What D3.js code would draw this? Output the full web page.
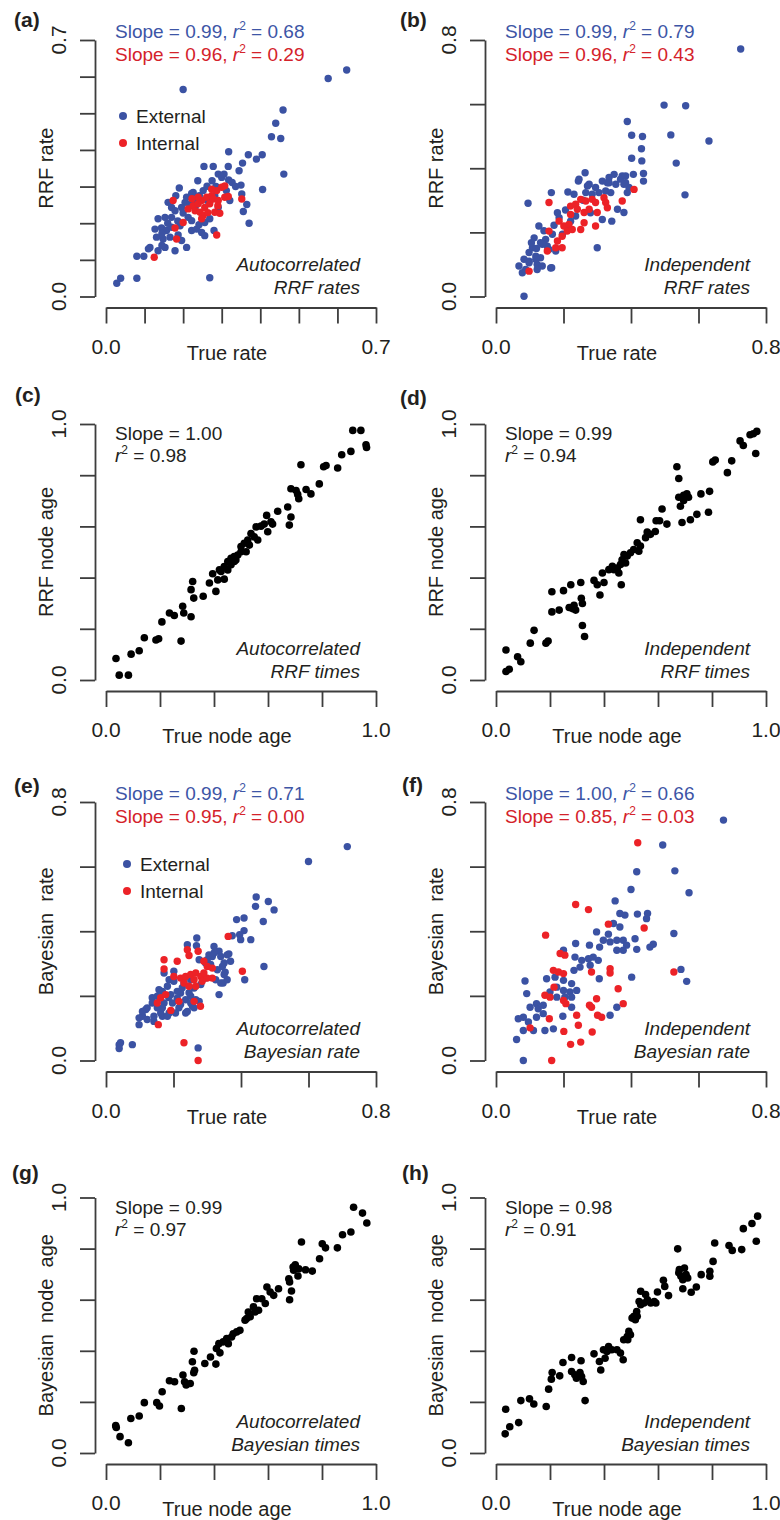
<!DOCTYPE html>
<html>
<head>
<meta charset="utf-8">
<script src="https://cdn.jsdelivr.net/npm/d3@7"></script>
<style>
  body { margin: 0; background: #fff; }
  svg text { font-family: "Liberation Sans", Arial, Helvetica, sans-serif; fill: #231f20; white-space: pre; }
</style>
</head>
<body>
<svg id="chart" width="780" height="1520"></svg>
<script>
// ---- tick values / labels ----
const ticks07 = [0, 0.1, 0.2, 0.3, 0.4, 0.5, 0.6, 0.7];
const ticks08 = [0, 0.2, 0.4, 0.6, 0.8];
const ticks10 = [0, 0.2, 0.4, 0.6, 0.8, 1.0];
const ends07 = ['0.0', '0.7'];
const ends08 = ['0.0', '0.8'];
const ends10 = ['0.0', '1.0'];

// ---- (a) autocorrelated RRF rates ----
const aExternal = [[0.624,0.618],[0.576,0.595],[0.200,0.565],[0.459,0.509],[0.440,0.473],[0.429,0.436],[0.453,0.431],[0.461,0.334],[0.318,0.395],[0.369,0.387],[0.405,0.387],[0.390,0.375],[0.354,0.364],[0.254,0.355],[0.278,0.355],[0.317,0.355],[0.406,0.292],[0.190,0.296],[0.356,0.232],[0.371,0.200],[0.269,0.051],[0.080,0.050],[0.028,0.036],[0.038,0.050],[0.080,0.110],[0.098,0.110],[0.110,0.130],[0.345,0.343],[0.291,0.334],[0.300,0.325],[0.306,0.334],[0.327,0.311],[0.336,0.300],[0.350,0.304],[0.226,0.284],[0.252,0.289],[0.352,0.280],[0.161,0.257],[0.170,0.243],[0.135,0.212],[0.153,0.216],[0.127,0.184],[0.144,0.187],[0.157,0.180],[0.170,0.189],[0.131,0.162],[0.148,0.157],[0.166,0.162],[0.114,0.134],[0.135,0.125],[0.153,0.134],[0.196,0.153],[0.209,0.134],[0.222,0.180],[0.235,0.184],[0.248,0.175],[0.256,0.166],[0.213,0.216],[0.222,0.207],[0.256,0.202],[0.269,0.212],[0.170,0.216],[0.179,0.234],[0.231,0.243],[0.205,0.257],[0.209,0.271],[0.312,0.289],[0.291,0.243],[0.192,0.193],[0.181,0.275],[0.238,0.316],[0.275,0.316],[0.321,0.262],[0.282,0.275],[0.145,0.139],[0.179,0.125],[0.280,0.180],[0.365,0.251],[0.222,0.281],[0.242,0.275],[0.186,0.206],[0.200,0.228],[0.217,0.252],[0.262,0.301],[0.160,0.200],[0.241,0.196],[0.263,0.262],[0.196,0.243],[0.232,0.262],[0.285,0.300],[0.318,0.318],[0.145,0.172],[0.187,0.168]];
const aInternal = [[0.352,0.266],[0.174,0.262],[0.200,0.202],[0.179,0.187],[0.183,0.157],[0.287,0.168],[0.125,0.107],[0.282,0.230],[0.295,0.227],[0.213,0.239],[0.226,0.248],[0.239,0.253],[0.248,0.262],[0.261,0.271],[0.274,0.275],[0.287,0.289],[0.300,0.298],[0.308,0.302],[0.231,0.234],[0.244,0.230],[0.252,0.221],[0.248,0.212],[0.269,0.253],[0.278,0.266],[0.291,0.262],[0.308,0.271],[0.256,0.243],[0.239,0.271],[0.274,0.293],[0.317,0.273],[0.264,0.229],[0.223,0.267],[0.290,0.248]];

// ---- (b) independent RRF rates ----
const bExternal = [[0.725,0.772],[0.498,0.597],[0.562,0.595],[0.389,0.546],[0.518,0.504],[0.402,0.503],[0.434,0.499],[0.631,0.485],[0.431,0.461],[0.402,0.431],[0.432,0.423],[0.534,0.416],[0.264,0.386],[0.350,0.381],[0.374,0.376],[0.407,0.381],[0.437,0.384],[0.437,0.360],[0.560,0.317],[0.244,0.360],[0.271,0.345],[0.315,0.360],[0.330,0.355],[0.355,0.350],[0.384,0.355],[0.394,0.340],[0.164,0.324],[0.095,0.291],[0.213,0.326],[0.266,0.324],[0.285,0.319],[0.305,0.324],[0.340,0.324],[0.360,0.272],[0.343,0.235],[0.300,0.152],[0.182,0.261],[0.280,0.261],[0.315,0.240],[0.127,0.220],[0.113,0.183],[0.108,0.152],[0.132,0.168],[0.152,0.157],[0.177,0.142],[0.118,0.126],[0.132,0.121],[0.098,0.110],[0.122,0.100],[0.137,0.095],[0.068,0.095],[0.078,0.074],[0.088,0.084],[0.165,0.090],[0.083,0.001],[0.197,0.194],[0.212,0.209],[0.221,0.235],[0.236,0.251],[0.231,0.319],[0.246,0.366],[0.276,0.350],[0.295,0.340],[0.325,0.329],[0.335,0.371],[0.369,0.366],[0.384,0.376],[0.335,0.355],[0.379,0.350],[0.389,0.324],[0.379,0.262],[0.187,0.246],[0.167,0.194],[0.147,0.178],[0.137,0.163],[0.098,0.137],[0.083,0.116],[0.098,0.105],[0.118,0.116],[0.157,0.147],[0.162,0.089],[0.122,0.084],[0.105,0.168],[0.142,0.205],[0.172,0.222],[0.206,0.270],[0.258,0.300],[0.120,0.150]];
const bInternal = [[0.157,0.293],[0.221,0.282],[0.236,0.288],[0.251,0.303],[0.266,0.298],[0.285,0.303],[0.295,0.293],[0.320,0.308],[0.325,0.293],[0.330,0.277],[0.374,0.298],[0.409,0.334],[0.300,0.262],[0.276,0.272],[0.261,0.262],[0.241,0.272],[0.221,0.256],[0.187,0.235],[0.201,0.220],[0.216,0.225],[0.211,0.204],[0.226,0.209],[0.196,0.188],[0.182,0.173],[0.157,0.204],[0.152,0.142],[0.177,0.152],[0.196,0.152],[0.098,0.079],[0.251,0.209],[0.261,0.230],[0.295,0.220]];

// ---- (c) autocorrelated RRF times ----
const cNodes = [[0.914,0.975],[0.944,0.975],[0.963,0.919],[0.965,0.908],[0.907,0.893],[0.873,0.880],[0.722,0.841],[0.806,0.833],[0.815,0.838],[0.858,0.828],[0.790,0.766],[0.685,0.747],[0.704,0.740],[0.710,0.725],[0.714,0.708],[0.741,0.744],[0.759,0.727],[0.636,0.659],[0.673,0.676],[0.685,0.637],[0.679,0.605],[0.595,0.643],[0.611,0.618],[0.617,0.609],[0.556,0.598],[0.574,0.601],[0.586,0.609],[0.599,0.579],[0.537,0.572],[0.549,0.559],[0.562,0.547],[0.525,0.547],[0.531,0.527],[0.512,0.534],[0.500,0.521],[0.519,0.501],[0.500,0.501],[0.488,0.488],[0.475,0.482],[0.463,0.475],[0.481,0.469],[0.451,0.463],[0.463,0.450],[0.438,0.443],[0.451,0.430],[0.426,0.424],[0.475,0.463],[0.420,0.430],[0.395,0.415],[0.414,0.391],[0.438,0.394],[0.383,0.379],[0.407,0.346],[0.360,0.327],[0.321,0.385],[0.315,0.353],[0.325,0.320],[0.284,0.288],[0.288,0.262],[0.315,0.247],[0.253,0.252],[0.235,0.262],[0.207,0.227],[0.142,0.165],[0.185,0.156],[0.195,0.161],[0.278,0.152],[0.093,0.101],[0.123,0.114],[0.037,0.084],[0.049,0.019],[0.083,0.019]];

// ---- (d) independent RRF times ----
const dNodes = [[0.966,0.971],[0.953,0.962],[0.941,0.958],[0.904,0.934],[0.916,0.916],[0.962,0.885],[0.803,0.852],[0.812,0.859],[0.873,0.856],[0.857,0.810],[0.670,0.833],[0.677,0.787],[0.677,0.714],[0.695,0.721],[0.713,0.714],[0.707,0.727],[0.695,0.701],[0.759,0.727],[0.791,0.737],[0.683,0.679],[0.615,0.668],[0.689,0.615],[0.720,0.626],[0.744,0.647],[0.787,0.655],[0.593,0.622],[0.606,0.622],[0.633,0.609],[0.535,0.626],[0.560,0.578],[0.572,0.569],[0.554,0.556],[0.590,0.580],[0.523,0.536],[0.535,0.523],[0.510,0.510],[0.529,0.503],[0.498,0.497],[0.486,0.484],[0.474,0.490],[0.467,0.470],[0.480,0.457],[0.461,0.451],[0.449,0.437],[0.437,0.431],[0.455,0.418],[0.431,0.444],[0.394,0.418],[0.418,0.431],[0.363,0.389],[0.375,0.372],[0.385,0.332],[0.400,0.381],[0.464,0.372],[0.314,0.381],[0.316,0.319],[0.320,0.299],[0.320,0.213],[0.328,0.170],[0.277,0.372],[0.250,0.349],[0.207,0.345],[0.207,0.266],[0.234,0.273],[0.271,0.283],[0.283,0.279],[0.295,0.273],[0.289,0.292],[0.141,0.194],[0.127,0.144],[0.185,0.144],[0.193,0.152],[0.037,0.117],[0.080,0.091],[0.092,0.071],[0.037,0.033],[0.049,0.042]];

// ---- (e) autocorrelated Bayesian rates ----
const eExternal = [[0.715,0.662],[0.600,0.616],[0.445,0.506],[0.481,0.492],[0.443,0.477],[0.498,0.466],[0.466,0.430],[0.387,0.436],[0.409,0.441],[0.409,0.402],[0.396,0.389],[0.374,0.386],[0.429,0.374],[0.399,0.374],[0.468,0.291],[0.411,0.250],[0.335,0.204],[0.269,0.379],[0.268,0.355],[0.241,0.358],[0.320,0.353],[0.335,0.338],[0.364,0.330],[0.315,0.322],[0.345,0.291],[0.353,0.273],[0.347,0.240],[0.276,0.312],[0.295,0.302],[0.305,0.327],[0.172,0.271],[0.187,0.250],[0.157,0.219],[0.137,0.194],[0.118,0.158],[0.108,0.137],[0.098,0.111],[0.142,0.121],[0.167,0.137],[0.187,0.147],[0.197,0.178],[0.216,0.163],[0.206,0.147],[0.236,0.188],[0.251,0.199],[0.256,0.168],[0.276,0.183],[0.236,0.147],[0.231,0.240],[0.251,0.250],[0.221,0.209],[0.261,0.224],[0.281,0.235],[0.295,0.255],[0.039,0.049],[0.043,0.055],[0.078,0.049],[0.039,0.037],[0.273,0.039],[0.172,0.178],[0.340,0.322],[0.320,0.333],[0.359,0.327],[0.300,0.312],[0.310,0.297],[0.350,0.302],[0.369,0.307],[0.330,0.281],[0.350,0.266],[0.359,0.250],[0.325,0.250],[0.340,0.240],[0.201,0.276],[0.201,0.245],[0.182,0.230],[0.167,0.214],[0.152,0.199],[0.192,0.204],[0.211,0.214],[0.226,0.225],[0.137,0.178],[0.122,0.163],[0.108,0.152],[0.098,0.132],[0.122,0.127],[0.142,0.137],[0.162,0.147],[0.182,0.137],[0.167,0.163],[0.152,0.163],[0.221,0.173],[0.241,0.152],[0.251,0.178],[0.266,0.188],[0.261,0.163],[0.211,0.193],[0.186,0.195],[0.246,0.210]];
const eInternal = [[0.362,0.384],[0.404,0.276],[0.231,0.055],[0.273,0.000],[0.155,0.111],[0.172,0.312],[0.211,0.307],[0.273,0.338],[0.280,0.168],[0.192,0.155],[0.172,0.283],[0.241,0.343],[0.246,0.325],[0.290,0.307],[0.300,0.291],[0.315,0.286],[0.201,0.260],[0.221,0.255],[0.236,0.260],[0.251,0.266],[0.266,0.271],[0.281,0.260],[0.300,0.255],[0.315,0.255],[0.261,0.250],[0.231,0.240],[0.246,0.230],[0.266,0.230],[0.285,0.245],[0.290,0.271],[0.162,0.194],[0.177,0.204],[0.152,0.178],[0.216,0.183],[0.261,0.183]];

// ---- (f) independent Bayesian rates ----
const fExternal = [[0.674,0.744],[0.494,0.667],[0.417,0.584],[0.530,0.587],[0.400,0.529],[0.353,0.494],[0.572,0.519],[0.367,0.455],[0.382,0.450],[0.419,0.453],[0.449,0.455],[0.446,0.439],[0.298,0.398],[0.333,0.391],[0.348,0.424],[0.367,0.413],[0.527,0.393],[0.318,0.372],[0.338,0.367],[0.358,0.372],[0.377,0.372],[0.412,0.377],[0.387,0.357],[0.358,0.341],[0.377,0.341],[0.466,0.360],[0.456,0.351],[0.417,0.344],[0.236,0.362],[0.277,0.357],[0.307,0.351],[0.200,0.341],[0.234,0.320],[0.254,0.310],[0.274,0.315],[0.288,0.320],[0.303,0.310],[0.231,0.279],[0.249,0.289],[0.279,0.295],[0.306,0.253],[0.402,0.258],[0.548,0.282],[0.565,0.245],[0.086,0.246],[0.150,0.253],[0.175,0.258],[0.200,0.248],[0.224,0.238],[0.180,0.227],[0.200,0.217],[0.219,0.212],[0.239,0.217],[0.160,0.212],[0.180,0.196],[0.204,0.196],[0.224,0.196],[0.091,0.207],[0.120,0.176],[0.101,0.165],[0.125,0.160],[0.140,0.171],[0.081,0.134],[0.066,0.129],[0.096,0.119],[0.120,0.134],[0.140,0.145],[0.111,0.093],[0.081,0.093],[0.061,0.065],[0.081,0.000],[0.145,0.093],[0.170,0.098],[0.198,0.137],[0.224,0.165],[0.338,0.140],[0.358,0.165]];
const fInternal = [[0.420,0.674],[0.236,0.483],[0.274,0.467],[0.333,0.422],[0.439,0.410],[0.147,0.388],[0.190,0.331],[0.204,0.326],[0.170,0.279],[0.185,0.274],[0.200,0.269],[0.283,0.274],[0.338,0.284],[0.338,0.271],[0.527,0.274],[0.172,0.227],[0.145,0.202],[0.160,0.196],[0.200,0.186],[0.207,0.176],[0.239,0.140],[0.244,0.109],[0.158,0.129],[0.101,0.101],[0.201,0.090],[0.285,0.088],[0.221,0.050],[0.251,0.057],[0.165,0.000],[0.277,0.171],[0.283,0.165],[0.298,0.191],[0.301,0.140],[0.313,0.134],[0.362,0.222],[0.377,0.176]];

// ---- (g) autocorrelated Bayesian times ----
const gNodes = [[0.917,0.962],[0.950,0.939],[0.966,0.900],[0.907,0.865],[0.876,0.854],[0.724,0.826],[0.801,0.819],[0.813,0.803],[0.857,0.803],[0.791,0.760],[0.693,0.728],[0.701,0.737],[0.714,0.721],[0.695,0.715],[0.739,0.717],[0.764,0.712],[0.677,0.682],[0.680,0.669],[0.711,0.693],[0.639,0.643],[0.596,0.650],[0.608,0.630],[0.621,0.617],[0.687,0.634],[0.680,0.600],[0.558,0.604],[0.577,0.604],[0.590,0.585],[0.546,0.572],[0.565,0.559],[0.552,0.552],[0.527,0.552],[0.521,0.526],[0.515,0.520],[0.534,0.533],[0.496,0.480],[0.484,0.474],[0.465,0.454],[0.471,0.467],[0.447,0.448],[0.453,0.428],[0.434,0.435],[0.418,0.428],[0.409,0.409],[0.422,0.392],[0.387,0.376],[0.407,0.348],[0.366,0.350],[0.326,0.398],[0.320,0.357],[0.328,0.324],[0.325,0.314],[0.235,0.283],[0.254,0.279],[0.285,0.305],[0.291,0.279],[0.297,0.266],[0.312,0.272],[0.208,0.240],[0.142,0.197],[0.188,0.197],[0.198,0.184],[0.279,0.174],[0.092,0.135],[0.123,0.145],[0.036,0.107],[0.038,0.100],[0.052,0.064],[0.083,0.040]];

// ---- (h) independent Bayesian times ----
const hNodes = [[0.969,0.927],[0.948,0.898],[0.916,0.878],[0.964,0.829],[0.810,0.822],[0.863,0.812],[0.875,0.793],[0.910,0.796],[0.673,0.799],[0.804,0.750],[0.792,0.711],[0.792,0.692],[0.760,0.698],[0.679,0.718],[0.698,0.724],[0.685,0.692],[0.704,0.698],[0.692,0.678],[0.710,0.685],[0.677,0.705],[0.692,0.643],[0.723,0.629],[0.742,0.650],[0.620,0.676],[0.625,0.652],[0.598,0.630],[0.639,0.616],[0.536,0.633],[0.554,0.620],[0.561,0.600],[0.548,0.587],[0.586,0.593],[0.592,0.587],[0.573,0.587],[0.530,0.593],[0.536,0.580],[0.521,0.554],[0.511,0.535],[0.523,0.535],[0.504,0.528],[0.516,0.522],[0.492,0.476],[0.498,0.463],[0.486,0.456],[0.473,0.443],[0.488,0.443],[0.417,0.417],[0.429,0.404],[0.411,0.397],[0.448,0.404],[0.461,0.391],[0.471,0.365],[0.398,0.404],[0.363,0.388],[0.383,0.358],[0.388,0.325],[0.404,0.371],[0.248,0.354],[0.280,0.374],[0.315,0.361],[0.280,0.319],[0.292,0.306],[0.311,0.315],[0.298,0.293],[0.317,0.299],[0.323,0.280],[0.208,0.315],[0.236,0.302],[0.205,0.289],[0.330,0.205],[0.195,0.250],[0.092,0.205],[0.124,0.212],[0.140,0.192],[0.186,0.182],[0.036,0.171],[0.051,0.103],[0.084,0.119],[0.034,0.075]];

// ---- regression summaries ----
const aStats = [['0.99', '0.68'], ['0.96', '0.29']];
const bStats = [['0.99', '0.79'], ['0.96', '0.43']];
const cStats = [['1.00', '0.98']];
const dStats = [['0.99', '0.94']];
const eStats = [['0.99', '0.71'], ['0.95', '0.00']];
const fStats = [['1.00', '0.66'], ['0.85', '0.03']];
const gStats = [['0.99', '0.97']];
const hStats = [['0.98', '0.91']];

const legendNames = ['External', 'Internal'];

const BLUE = '#3b52a3', RED = '#ec2227';
const BLUE_TXT = '#3d55a6', RED_TXT = '#d4222a';
const AXIS = '#3d3d3d';

const rowTop = [40, 424, 802, 1197.5];
const rowBottom = [296.5, 680, 1060.5, 1453];
const colX = [0, 390];

const panels = [
  { tag: '(a)', col: 0, row: 0, max: 0.7, ticks: ticks07, ends: ends07, xTitle: 'True rate', yTitle: 'RRF rate',
    series: [[aExternal, BLUE], [aInternal, RED]], stats: aStats, note: ['Autocorrelated', 'RRF rates'],
    tagPos: [14, 27], legend: [123, 76] },
  { tag: '(b)', col: 1, row: 0, max: 0.8, ticks: ticks08, ends: ends08, xTitle: 'True rate', yTitle: 'RRF rate',
    series: [[bExternal, BLUE], [bInternal, RED]], stats: bStats, note: ['Independent', 'RRF rates'],
    tagPos: [10, 27] },
  { tag: '(c)', col: 0, row: 1, max: 1.0, ticks: ticks10, ends: ends10, xTitle: 'True node age', yTitle: 'RRF node age',
    series: [[cNodes, '#000']], stats: cStats, note: ['Autocorrelated', 'RRF times'],
    tagPos: [15, 402] },
  { tag: '(d)', col: 1, row: 1, max: 1.0, ticks: ticks10, ends: ends10, xTitle: 'True node age', yTitle: 'RRF node age',
    series: [[dNodes, '#000']], stats: dStats, note: ['Independent', 'RRF times'],
    tagPos: [10, 405] },
  { tag: '(e)', col: 0, row: 2, max: 0.8, ticks: ticks08, ends: ends08, xTitle: 'True rate', yTitle: 'Bayesian  rate',
    series: [[eExternal, BLUE], [eInternal, RED]], stats: eStats, note: ['Autocorrelated', 'Bayesian rate'],
    tagPos: [14, 793], legend: [127, 62] },
  { tag: '(f)', col: 1, row: 2, max: 0.8, ticks: ticks08, ends: ends08, xTitle: 'True rate', yTitle: 'Bayesian  rate',
    series: [[fExternal, BLUE], [fInternal, RED]], stats: fStats, note: ['Independent', 'Bayesian rate'],
    tagPos: [12, 792] },
  { tag: '(g)', col: 0, row: 3, max: 1.0, ticks: ticks10, ends: ends10, xTitle: 'True node age', yTitle: 'Bayesian  node  age',
    series: [[gNodes, '#000']], stats: gStats, note: ['Autocorrelated', 'Bayesian times'],
    tagPos: [12, 1180] },
  { tag: '(h)', col: 1, row: 3, max: 1.0, ticks: ticks10, ends: ends10, xTitle: 'True node age', yTitle: 'Bayesian  node  age',
    series: [[hNodes, '#000']], stats: hStats, note: ['Independent', 'Bayesian times'],
    tagPos: [12, 1180] }
];

const svg = d3.select('#chart');

function rSquared(t, lead, r2) {
  t.append('tspan').text(lead);
  t.append('tspan').attr('font-style', 'italic').text('r');
  t.append('tspan').attr('font-size', 12).attr('dy', -8).text('2');
  t.append('tspan').attr('dy', 8).text(' = ' + r2);
}

panels.forEach((p) => {
  const ox = colX[p.col];
  const top = rowTop[p.row], bottom = rowBottom[p.row];
  const g = svg.append('g').attr('transform', 'translate(' + ox + ',0)');

  const x = d3.scaleLinear().domain([0, p.max]).range([106, 376]);
  const y = d3.scaleLinear().domain([0, p.max]).range([bottom, top]);
  const xAxisY = bottom + 11;

  // axes, R style: detached lines with outward ticks
  const xa = g.append('g')
      .attr('transform', 'translate(0,' + xAxisY + ')')
      .call(d3.axisBottom(x).tickValues(p.ticks).tickSize(16).tickSizeOuter(0).tickFormat(''));
  const ya = g.append('g')
      .attr('transform', 'translate(95,0)')
      .call(d3.axisLeft(y).tickValues(p.ticks).tickSize(15).tickSizeOuter(0).tickFormat(''));
  [xa, ya].forEach((a) => {
    a.selectAll('path, line').attr('stroke', AXIS).attr('stroke-width', 1.8);
  });

  // end tick labels only
  g.selectAll('.xend').data([0, p.max]).enter().append('text')
      .attr('x', (d) => x(d)).attr('y', xAxisY + 46)
      .attr('text-anchor', 'middle').attr('font-size', 21).attr('fill', '#333')
      .text((d, i) => p.ends[i]);
  g.selectAll('.yend').data([0, p.max]).enter().append('text')
      .attr('transform', (d) => 'translate(66,' + y(d) + ') rotate(-90)')
      .attr('text-anchor', 'middle').attr('font-size', 21).attr('fill', '#333')
      .text((d, i) => p.ends[i]);

  // axis titles
  g.append('text').attr('x', 227).attr('y', xAxisY + 52)
      .attr('text-anchor', 'middle').attr('font-size', 20).text(p.xTitle);
  g.append('text')
      .attr('transform', 'translate(53,' + ((top + bottom) / 2) + ') rotate(-90)')
      .attr('text-anchor', 'middle').attr('font-size', 20).text(p.yTitle);

  // points
  p.series.forEach(([data, color]) => {
    g.append('g').selectAll('circle').data(data).enter().append('circle')
        .attr('cx', (d) => x(d[0]))
        .attr('cy', (d) => y(d[1]))
        .attr('r', color === '#000' ? 3.8 : 3.7)
        .attr('fill', color);
  });

  // regression text
  if (p.stats.length === 2) {
    const cols = [BLUE_TXT, RED_TXT];
    p.stats.forEach((s, i) => {
      const t = g.append('text').attr('x', 115).attr('y', top - 2 + i * 23)
          .attr('font-size', 19).style('fill', cols[i]);
      rSquared(t, 'Slope = ' + s[0] + ', ', s[1]);
    });
  } else {
    const s = p.stats[0];
    g.append('text').attr('x', 115).attr('y', top + 16).attr('font-size', 19)
        .text('Slope = ' + s[0]);
    const t = g.append('text').attr('x', 115).attr('y', top + 38).attr('font-size', 19);
    rSquared(t, '', s[1]);
  }

  // legend
  if (p.legend) {
    legendNames.forEach((name, i) => {
      const ly = top + p.legend[1] + i * 27;
      g.append('circle').attr('cx', p.legend[0]).attr('cy', ly).attr('r', 4)
          .attr('fill', i === 0 ? BLUE : RED);
      g.append('text').attr('x', p.legend[0] + 13).attr('y', ly + 6.5)
          .attr('font-size', 19).text(name);
    });
  }

  // italic note
  p.note.forEach((line, i) => {
    g.append('text').attr('x', 360).attr('y', bottom - 25.5 + i * 23)
        .attr('text-anchor', 'end').attr('font-size', 19).attr('font-style', 'italic')
        .text(line);
  });

  // panel tag
  g.append('text').attr('x', p.tagPos[0]).attr('y', p.tagPos[1])
      .attr('font-size', 21).attr('font-weight', 'bold').text(p.tag);
});
</script>
</body>
</html>
